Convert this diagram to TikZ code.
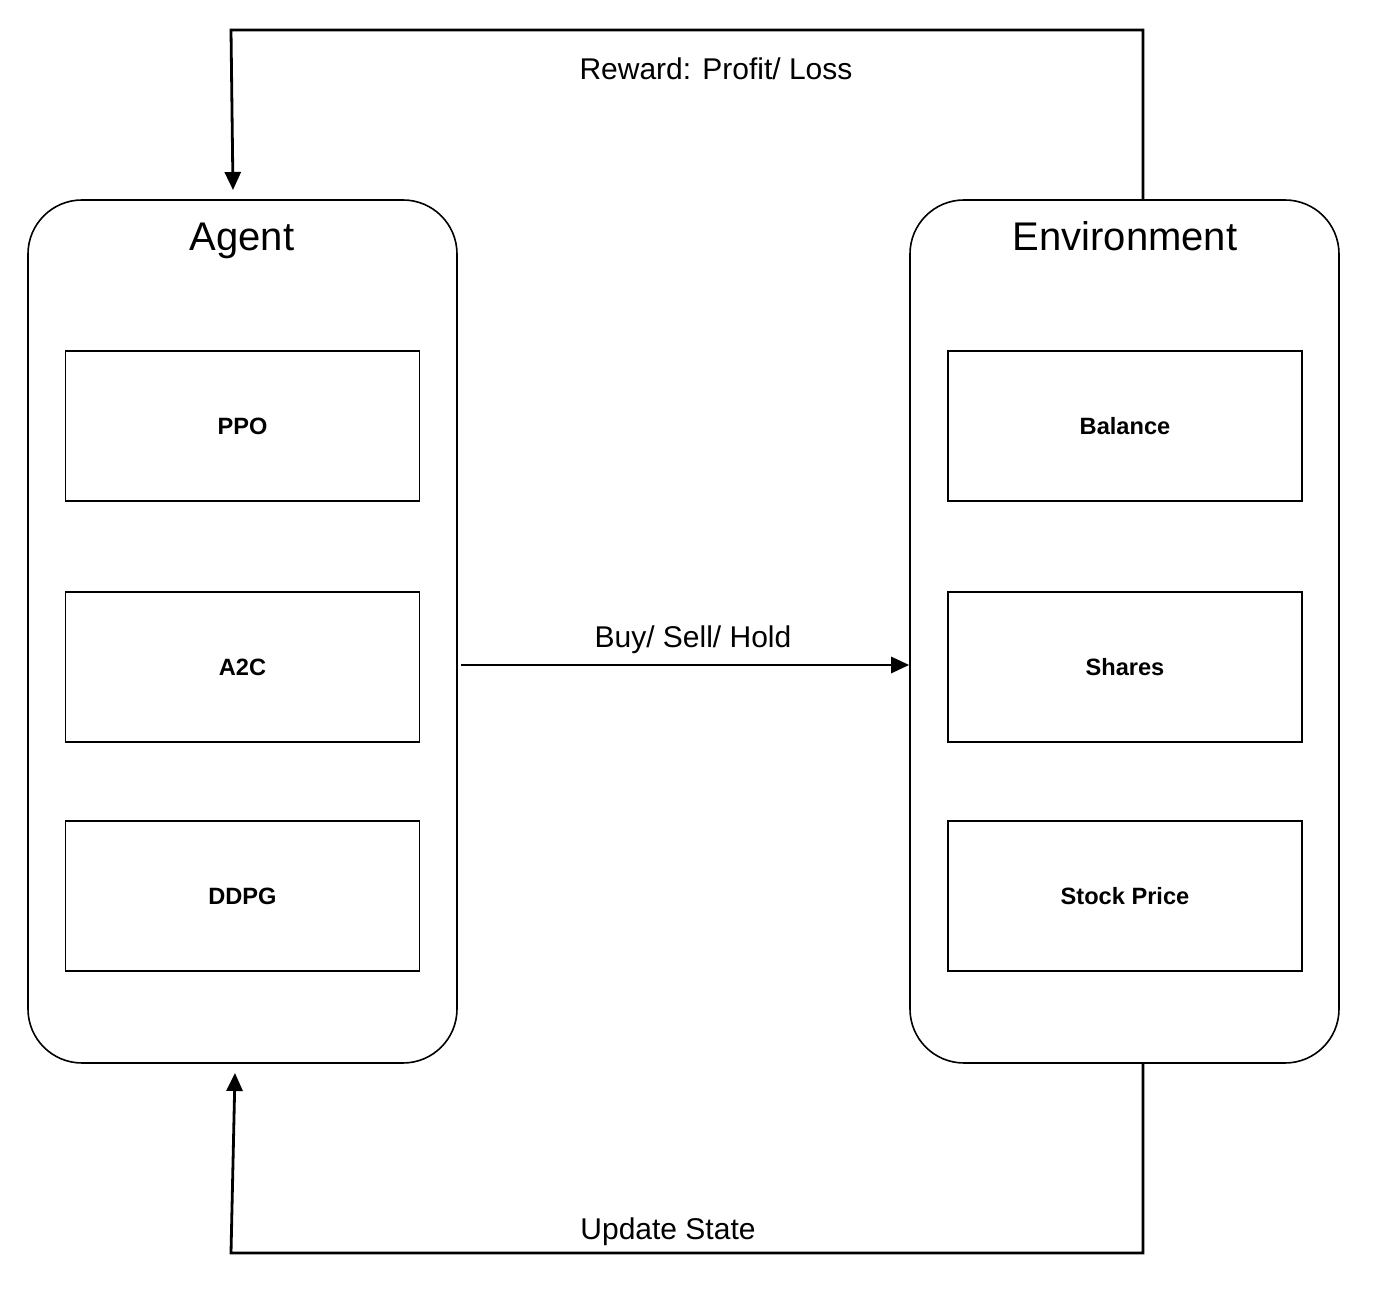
\documentclass[tikz,border=0pt]{standalone}
\usepackage{fontspec}
\setmainfont{Liberation Sans}
\usetikzlibrary{positioning}
\tikzset{
  panel/.style={draw,thick,rounded corners=27pt,minimum width=214.5pt,minimum height=431.5pt},
  algo/.style={draw,thick,minimum width=177pt,minimum height=75pt,font=\fontsize{11.8}{13}\selectfont\bfseries},
  title/.style={anchor=base,font=\fontsize{20}{24}\selectfont},
  lbl/.style={anchor=base,font=\fontsize{15}{18}\selectfont},
  flow/.style={line width=1.4pt,-{Triangle[length=9pt,width=8pt]}}
}
\usetikzlibrary{arrows.meta}
\begin{document}
\begin{tikzpicture}[x=0.5pt,y=-0.5pt]
  \useasboundingbox (0,0) rectangle (1378,1293);
  \node[panel] (agent) at (242.5,631.5) {};
  \node[panel] (env) at (1124.5,631.5) {};
  \node[title] (agenttitle) at (242,251) {Agent};
  \node[title] (envtitle) at (1125,251) {Environment};
  \node[algo] (ppo) at (242.5,426) {PPO};
  \node[algo] (a2c) at (242.5,667) {A2C};
  \node[algo] (ddpg) at (242.5,896) {DDPG};
  \node[algo] (balance) at (1125,426) {Balance};
  \node[algo] (shares) at (1125,667) {Shares};
  \node[algo] (price) at (1125,896) {Stock Price};
  \coordinate (rx) at (1143,0);
  \coordinate (ltop) at (231,30);
  \coordinate (lin) at (233,190);
  \coordinate (lbot) at (231,1253);
  \coordinate (lout) at (235,1073);
  \draw[flow] ([xshift=1.5pt]agent.east |- 0,665) -- (env.west |- 0,665);
  \node[lbl] (action) at (693,648) {Buy/ Sell/ Hold};
  \draw[flow] (env.north -| rx) |- (ltop) -- (lin);
  \node[lbl] (reward) at (716,80) {Reward: Profit/ Loss};
  \draw[flow] (env.south -| rx) |- (lbot) -- (lout);
  \node[lbl] (update) at (668,1240) {Update State};
\end{tikzpicture}
\end{document}
